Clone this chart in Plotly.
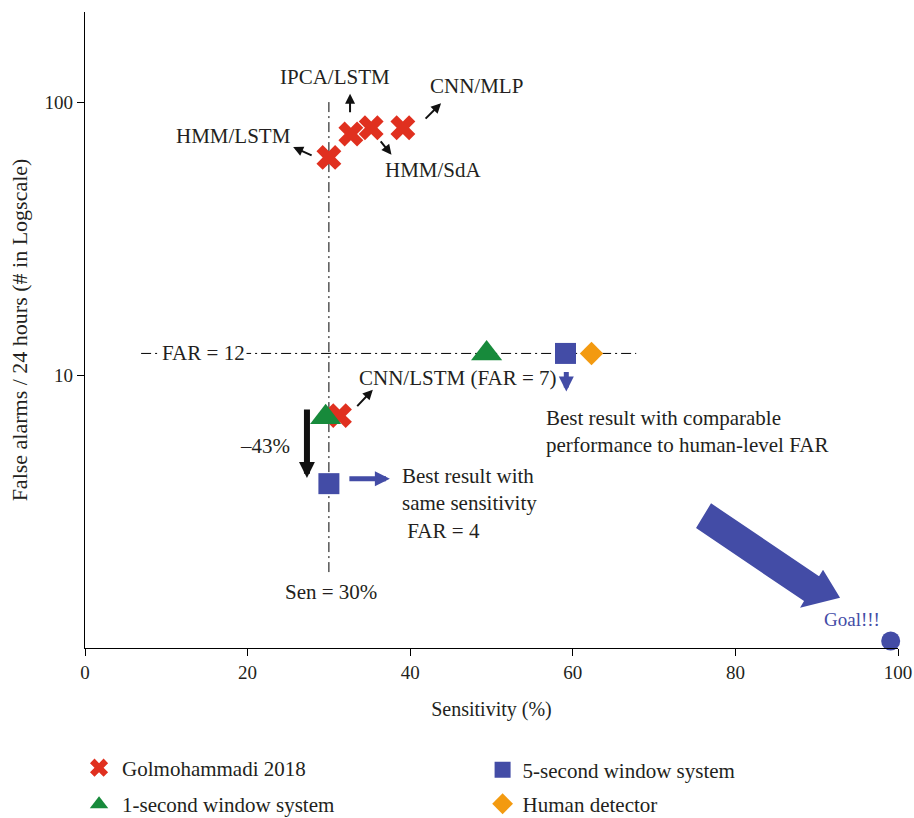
import math
import plotly.graph_objects as go

# ---------------- data ----------------
golmo_x = [30.0, 32.7, 35.2, 39.1, 31.3]
golmo_y = [62.7, 76.4, 80.5, 80.5, 7.1]
golmo_names = ["HMM/LSTM", "IPCA/LSTM", "HMM/SdA", "CNN/MLP", "CNN/LSTM"]

one_sec_x = [49.4, 29.6]
one_sec_y = [12, 7]

five_sec_x = [59.1, 30.0]
five_sec_y = [12, 4]

human_x = [62.3]
human_y = [12]

goal_x = [99.1]
goal_y = [1.06]

sen_line_x = [30, 30]
sen_line_y = [100, 1.85]
far_line_x = [6.9, 67.8]
far_line_y = [12, 12]

x_ticks = [0, 20, 40, 60, 80, 100]
y_ticks = [10, 100]

# ---------------- style ----------------
RED = "#e0301f"
GREEN = "#178a3b"
BLUE = "#434ca6"
ORANGE = "#f39a10"
TXT = "#231f20"
FONT = "Liberation Serif"

fig = go.Figure()

fig.add_trace(go.Scatter(x=sen_line_x, y=sen_line_y, mode="lines",
                         line=dict(color="black", width=1, dash="10px,4px,2px,4px"),
                         showlegend=False, hoverinfo="skip"))
fig.add_trace(go.Scatter(x=far_line_x, y=far_line_y, mode="lines",
                         line=dict(color="black", width=1, dash="10px,4px,2px,4px"),
                         showlegend=False, hoverinfo="skip"))

fig.add_trace(go.Scatter(x=golmo_x, y=golmo_y, mode="markers", name="Golmohammadi 2018",
                         text=golmo_names,
                         marker=dict(symbol="x", size=22, color=RED, line=dict(width=0)),
                         legend="legend"))
fig.add_trace(go.Scatter(x=one_sec_x, y=one_sec_y, mode="markers", name="1-second window system",
                         marker=dict(symbol="triangle-up", size=27, color=GREEN, line=dict(width=0)),
                         legend="legend2"))
fig.add_trace(go.Scatter(x=five_sec_x, y=five_sec_y, mode="markers", name="5-second window system",
                         marker=dict(symbol="square", size=21, color=BLUE, line=dict(width=0)),
                         legend="legend3"))
fig.add_trace(go.Scatter(x=human_x, y=human_y, mode="markers", name="Human detector",
                         marker=dict(symbol="diamond", size=18, color=ORANGE, line=dict(width=0)),
                         legend="legend4"))
fig.add_trace(go.Scatter(x=goal_x, y=goal_y, mode="markers", name="Goal",
                         marker=dict(symbol="circle", size=19, color=BLUE, line=dict(width=0)),
                         showlegend=False, cliponaxis=False))


def yv(v):
    return math.log10(v)


def text_ann(x, y, text, xanchor="center", color=TXT, bg=None, size=21):
    d = dict(x=x, y=y, xref="x", yref="y", text=text, showarrow=False,
             xanchor=xanchor, yanchor="middle", align="left",
             font=dict(family=FONT, size=size, color=color))
    if bg:
        d["bgcolor"] = bg
    fig.add_annotation(**d)


def arrow_ann(x, y, ax, ay, color="#111", width=2, head=2, size=1.0):
    fig.add_annotation(x=x, y=y, xref="x", yref="y", ax=ax, ay=ay,
                       axref="pixel", ayref="pixel", text="", showarrow=True,
                       arrowhead=head, arrowsize=size, arrowwidth=width,
                       arrowcolor=color, standoff=0, startstandoff=0)


# labels
text_ann(30.8, yv(123.8), "IPCA/LSTM")
text_ann(48.1, yv(114.1), "CNN/MLP")
text_ann(18.3, yv(75.3), "HMM/LSTM")
text_ann(42.9, yv(56.5), "HMM/SdA")
text_ann(45.9, yv(9.75), "CNN/LSTM (FAR = 7)")
text_ann(14.6, yv(12), "FAR = 12", bg="white")
text_ann(56.5, yv(6.22), "Best result with comparable<br>performance to human-level FAR", xanchor="left")
text_ann(22.1, yv(5.48), "\u201343%")
text_ann(38.7, yv(3.38), "Best result with<br>same sensitivity<br> FAR = 4", xanchor="left")
text_ann(30.3, yv(1.61), "Sen = 30%")
text_ann(94.3, yv(1.27), "Goal!!!", color=BLUE, size=19)

# small black arrows
arrow_ann(32.6, yv(107.3), 0, 20)
arrow_ann(43.8, yv(99.1), -17, 17)
arrow_ann(25.6, yv(68.4), 20, 9)
arrow_ann(37.7, yv(64.1), -12, -15)
arrow_ann(35.4, yv(8.84), -17, 18)
# -43% arrow
arrow_ann(27.3, yv(4.2), 0, -70, color="#111", width=6, head=2, size=0.53)
# blue arrows
arrow_ann(59.2, yv(8.71), 0, -21, color=BLUE, width=5, head=2, size=0.6)
arrow_ann(37.5, yv(4.17), -42, 0, color=BLUE, width=5, head=2, size=0.6)

# big "goal" arrow as a filled pixel-sized shape anchored (paper coords) at its tip
fig.add_shape(type="path", xref="paper", yref="paper", xsizemode="pixel", ysizemode="pixel",
              xanchor=0.9287, yanchor=0.0791,
              path="M0,0 L-17,28 L-21,21.4 L-129,94.4 L-144,69.6 L-36,-3.4 L-40,-10 Z",
              fillcolor=BLUE, line=dict(width=0), layer="above")

leg_common = dict(orientation="h", xanchor="left", yanchor="middle",
                  xref="container", yref="container",
                  bgcolor="rgba(0,0,0,0)", font=dict(family=FONT, size=21, color=TXT))

fig.update_layout(
    width=914, height=818,
    margin=dict(l=85, r=16, t=12, b=170, autoexpand=False),
    paper_bgcolor="white", plot_bgcolor="white",
    font=dict(family=FONT, color=TXT),
    legend=dict(x=0.0832, y=0.0611, itemwidth=36, **leg_common),
    legend2=dict(x=0.0832, y=0.0165, itemwidth=36, **leg_common),
    legend3=dict(x=0.528, y=0.0587, itemwidth=30, **leg_common),
    legend4=dict(x=0.528, y=0.0170, itemwidth=30, **leg_common),
    xaxis=dict(range=[0, 100], tickvals=x_ticks, showgrid=False, zeroline=False,
               showline=True, linecolor="black", linewidth=1.2,
               ticks="outside", ticklen=7, tickwidth=1.2, tickcolor="black",
               tickfont=dict(family=FONT, size=19, color=TXT),
               title=dict(text="Sensitivity (%)", standoff=20,
                          font=dict(family=FONT, size=20, color=TXT))),
    yaxis=dict(type="log", range=[0, 2.33], tickvals=y_ticks, ticktext=["10", "100"],
               showgrid=False, zeroline=False,
               showline=True, linecolor="black", linewidth=1.2,
               ticks="outside", ticklen=7, tickwidth=1.2, tickcolor="black",
               tickfont=dict(family=FONT, size=19, color=TXT),
               title=dict(text="False alarms / 24 hours (# in Logscale)", standoff=10,
                          font=dict(family=FONT, size=22, color=TXT))),
)

fig.write_html("out.html")
